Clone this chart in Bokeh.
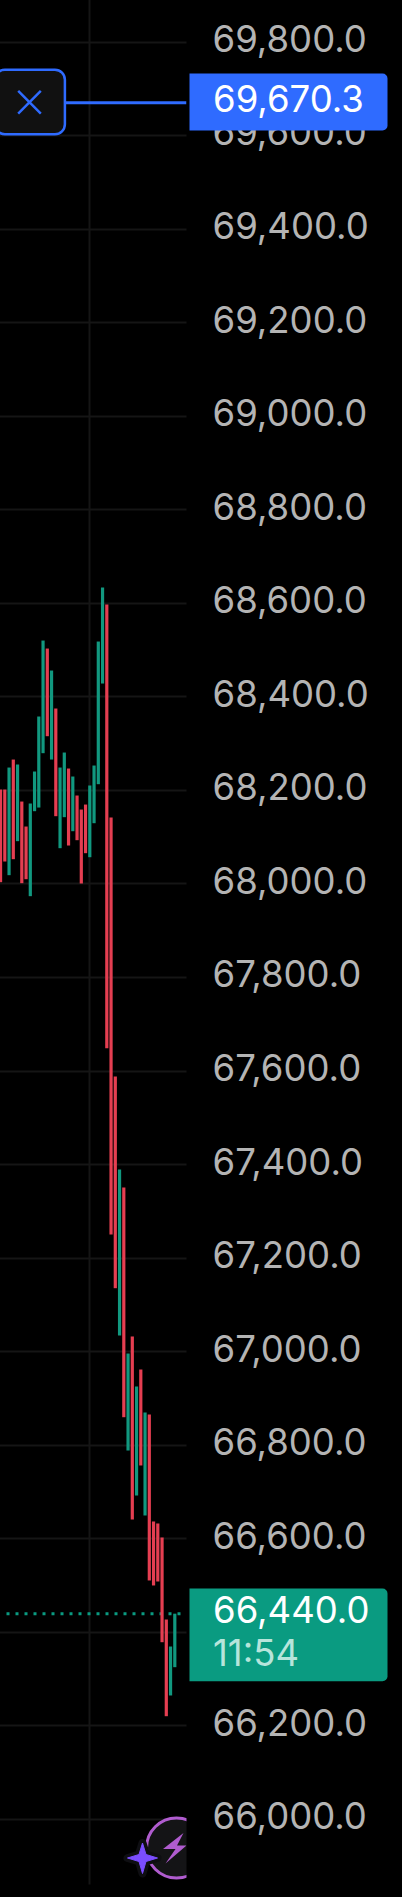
from bokeh.plotting import figure
from bokeh.embed import file_html
from bokeh.resources import INLINE
from bokeh.models import FixedTicker, NumeralTickFormatter, BoxAnnotation, Label, Range1d, ColumnDataSource, LinearAxis

RED = "#e53e51"
GREEN = "#11987f"
BLUE = "#2f6bff"
TAG_GREEN = "#0a9b81"
GRID = "#151515"
FONT = "Inter"
FONT_SIZE = "36.5px"

price_ticks = [66000, 66200, 66400, 66600, 66800, 67000, 67200, 67400, 67600, 67800,
               68000, 68200, 68400, 68600, 68800, 69000, 69200, 69400, 69600, 69800]
alert_price = 69670.3
last_price = 66440.0
alert_label = "69,670.3"
last_label = "66,440.0"
countdown = "11:54"
time_tick = 21

bar_high = [68201.9, 68201.9, 68248.9, 68266.0, 68255.4, 68176.2, 68122.8, 68172.0, 68240.4, 68358.0,
            68520.4, 68503.3, 68456.3, 68375.1, 68248.9, 68281.0, 68246.8, 68229.7, 68189.1, 68159.1,
            68169.8, 68210.5, 68253.2, 68518.3, 68633.8, 68597.4, 68142.0, 67588.4, 67389.6, 67351.1,
            66996.2, 67032.6, 66925.7, 66962.0, 66870.1, 66865.8, 66637.1, 66632.8, 66602.9, 66427.5,
            66369.8, 66440.0]
bar_low = [68003.8, 68048.0, 68018.8, 68053.0, 68091.5, 68001.7, 68010.2, 67973.9, 68155.6, 68163.4,
           68279.6, 68315.9, 68266.0, 68144.9, 68076.5, 68142.8, 68082.2, 68112.8, 68093.6, 68001.0,
           68065.8, 68057.2, 68129.9, 68213.3, 68428.5, 67648.9, 67250.6, 67135.8, 67034.7, 66860.0,
           66788.8, 66641.3, 66692.6, 66756.8, 66649.9, 66511.0, 66500.3, 66508.8, 66379.0, 66220.8,
           66265.1, 66325.6]
bar_up = [0, 0, 1, 0, 1, 0, 0, 1, 1, 1, 1, 0, 1, 0, 1, 1, 0, 1, 0, 0,
          0, 1, 1, 1, 1, 0, 0, 0, 1, 0, 1, 0, 1, 0, 1, 0, 0, 0, 0, 0, 1, 1]

PX_PER_PRICE = 0.46776
PX_PER_BAR = 4.25
WIDTH, HEIGHT = 402, 1897
BLEED = 2
PLOT_RIGHT, PLOT_BOTTOM = 186, 1884
LABEL_SHIFT = 3.6 / PX_PER_PRICE
def P(py):
    return 69800 - (py - 41.5) / PX_PER_PRICE
def B(px):
    return (px - 0.05) / PX_PER_BAR

p = figure(width=WIDTH + BLEED, height=HEIGHT + BLEED,
           output_backend="svg", toolbar_location=None, y_axis_location="right",
           x_range=Range1d(B(-BLEED), B(WIDTH)), y_range=Range1d(P(HEIGHT), P(-BLEED)),
           background_fill_color="#000000", border_fill_color="#000000",
           min_border_left=0, min_border_top=0, min_border_bottom=0, min_border_right=0)
p.margin = (-BLEED, 0, 0, -BLEED)
p.outline_line_color = None

p.xaxis.visible = False
p.yaxis[0].visible = False
p.extra_y_ranges = {"labels": Range1d(P(HEIGHT) - LABEL_SHIFT, P(-BLEED) - LABEL_SHIFT)}

ax = LinearAxis(y_range_name="labels", fixed_location=B(PLOT_RIGHT))
ax.ticker = FixedTicker(ticks=price_ticks)
ax.formatter = NumeralTickFormatter(format="0,0.0")
ax.axis_line_color = None
ax.major_tick_line_color = None
ax.minor_tick_line_color = None
ax.major_tick_out = 0
ax.major_tick_in = 0
ax.major_label_standoff = 26
ax.major_label_text_font = FONT
ax.major_label_text_font_size = FONT_SIZE
ax.major_label_text_color = "#b4b4b4"
ax.major_label_text_align = "left"
p.add_layout(ax, "right")

p.xgrid[0].ticker = FixedTicker(ticks=[time_tick])
p.xgrid[0].grid_line_color = GRID
p.xgrid[0].grid_line_width = 2
p.ygrid[0].ticker = FixedTicker(ticks=price_ticks)
p.ygrid[0].grid_line_color = GRID
p.ygrid[0].grid_line_width = 2

# last-price dotted line
p.line([B(6), B(180)], [last_price, last_price], line_color=TAG_GREEN, line_width=3, line_dash="3 6")

# bars
idx = list(range(len(bar_high)))
src = ColumnDataSource(dict(x=idx, top=bar_high, bottom=bar_low,
                            color=[GREEN if u else RED for u in bar_up]))
p.vbar(x="x", top="top", bottom="bottom", width=3.2 / PX_PER_BAR, fill_color="color", line_color=None, source=src)

# alert line and close button
p.line([B(60), B(PLOT_RIGHT)], [alert_price, alert_price], line_color=BLUE, line_width=3)
p.rect(x=[B(29.4)], y=[P(101.5)], width=[70], height=[64.5], width_units="screen", height_units="screen",
       fill_color="#111111", line_color=BLUE, line_width=2.5, border_radius=10)
p.scatter(x=[B(29)], y=[P(101.7)], marker="x", size=32, line_color=BLUE, line_width=2.5)

# logo
p.scatter(x=[B(176)], y=[P(1847.5)], marker="circle", size=60, fill_color="#141416",
          line_color="#b05ccf", line_width=3)
bolt_x = [183, 162.5, 175, 165, 186, 176.5]
bolt_y = [1832.5, 1848.5, 1848.5, 1863, 1845, 1845]
p.patch([B(v) for v in bolt_x], [P(v) for v in bolt_y], fill_color="#b05ccf", line_color=None)
star_x = [142, 145.5, 157, 145.5, 142, 138.5, 127, 138.5]
star_y = [1842.5, 1854, 1857.5, 1861, 1873, 1861, 1857.5, 1854]
p.patch([B(v) for v in star_x], [P(v) for v in star_y], fill_color="#7b4dff", line_color="#0e0e12",
        line_width=8, line_join="round")
p.patch([B(v) for v in star_x], [P(v) for v in star_y], fill_color="#7b4dff", line_color="#7b4dff", line_width=1)

# black masks: the plot area ends before the price scale and above the page bottom
p.quad(left=[B(PLOT_RIGHT), B(-BLEED)], right=[B(WIDTH), B(WIDTH)],
       top=[P(-BLEED), P(PLOT_BOTTOM)], bottom=[P(HEIGHT), P(HEIGHT)],
       fill_color="#000000", line_color=None)

# price tags
tag_l, tag_r = B(189), B(387)
p.add_layout(BoxAnnotation(left=tag_l, right=tag_r,
                           top=P(73), bottom=P(130), fill_color=BLUE, fill_alpha=1, line_alpha=0,
                           border_radius=(0, 5, 5, 0)))
p.add_layout(BoxAnnotation(left=tag_l, right=tag_r,
                           top=P(1588), bottom=P(1680.7), fill_color=TAG_GREEN, fill_alpha=1, line_alpha=0,
                           border_radius=(0, 5, 5, 0)))
for text, py, col in [(alert_label, 98, "#ffffff"), (last_label, 1609.4, "#ffffff"), (countdown, 1652.4, "#b7e5db")]:
    p.add_layout(Label(x=B(212.5), y=P(py), text=text, text_color=col,
                       text_font=FONT, text_font_size=FONT_SIZE, text_align="left",
                       text_baseline="middle"))

open("out.html", "w").write(file_html(p, INLINE))
